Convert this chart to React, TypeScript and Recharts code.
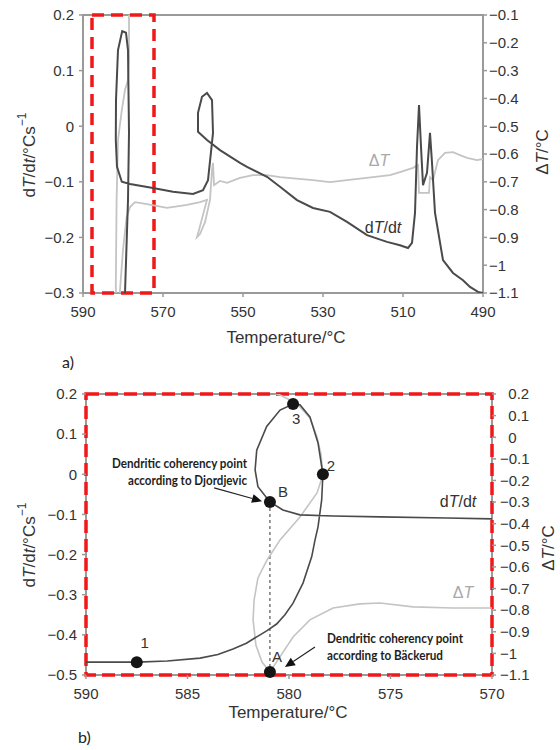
import React from 'react';
import { ComposedChart, Line, XAxis, YAxis, ReferenceArea, ReferenceLine, ReferenceDot } from 'recharts';

// ---------- data ----------
const tempTicksA = [590, 570, 550, 530, 510, 490];
const rateTicksA = [0.2, 0.1, 0, -0.1, -0.2, -0.3];
const deltaTicksA = [-0.1, -0.2, -0.3, -0.4, -0.5, -0.6, -0.7, -0.8, -0.9, -1, -1.1];
const tempTicksB = [590, 585, 580, 575, 570];
const rateTicksB = [0.2, 0.1, 0, -0.1, -0.2, -0.3, -0.4, -0.5];
const deltaTicksB = [0.2, 0.1, 0, -0.1, -0.2, -0.3, -0.4, -0.5, -0.6, -0.7, -0.8, -0.9, -1, -1.1];

// panel a: dT/dt (temperature, °C/s)
const rateCurveA = [
  [590, -0.47], [585, -0.46], [582.8, -0.435], [581.6, -0.405], [580.6, -0.373], [579.8, -0.321],
  [579.5, -0.3], [578.75, -0.133], [578.5, -0.012], [578.75, 0.137], [579.25, 0.168], [580.2, 0.171],
  [581.25, 0.137], [581.75, 0.047], [581.8, -0.025], [581.5, -0.073], [580.3, -0.1], [578.25, -0.104],
  [572.5, -0.111], [567.5, -0.118], [562.5, -0.122], [560, -0.115], [558.75, -0.097], [557.5, -0.012],
  [557.75, 0.047], [559, 0.06], [560.25, 0.053], [561.25, 0.024], [561.25, -0.01], [559, -0.025],
  [555.75, -0.043], [550.75, -0.066], [549, -0.073], [544, -0.091], [540.75, -0.109], [536.5, -0.133],
  [532.5, -0.147], [528.25, -0.154], [524, -0.172], [519, -0.196], [514, -0.208], [510.75, -0.214],
  [508.75, -0.219], [507.75, -0.21], [507, -0.156], [506.5, -0.037], [506, 0.038], [505.5, -0.037],
  [505, -0.106], [504, -0.084], [503.25, -0.012], [502.75, -0.066], [502, -0.156], [500, -0.241],
  [497.5, -0.264], [495, -0.277], [493.25, -0.289], [491.25, -0.298], [490, -0.3],
];

// panel a: ΔT (temperature, °C)
const deltaCurveA = [
  [578.5, 0.0], [578.5, -0.262], [578.75, -0.334], [579.5, -0.37], [580.3, -0.442], [581.25, -0.55],
  [581.6, -0.765], [581.8, -1.078], [581.6, -1.12], [580.9, -1.12], [580.75, -1.089], [580, -0.945],
  [579.1, -0.827], [578.25, -0.791], [577, -0.773], [574, -0.78], [569, -0.794], [564, -0.783],
  [560.75, -0.773], [559, -0.765], [560, -0.819], [561, -0.873], [561.5, -0.899], [560.75, -0.888],
  [559.5, -0.845], [558.25, -0.765], [557.75, -0.658], [557.5, -0.632], [557.25, -0.712], [555.75, -0.697],
  [554, -0.704], [550.75, -0.686], [547.5, -0.676], [544, -0.676], [540.75, -0.683], [532.5, -0.694],
  [528.25, -0.701], [524, -0.694], [517.5, -0.683], [513.25, -0.676], [510.75, -0.665], [507.5, -0.65],
  [506.25, -0.64], [506, -0.74], [503.5, -0.74], [503.25, -0.683], [502.5, -0.694], [501.25, -0.622],
  [499.5, -0.596], [497.5, -0.593], [495.75, -0.604], [494, -0.614], [491.5, -0.622], [490, -0.618],
];

// temperature window of panel b, outlined in panel a
const zoomWindowA = [587.75, 572.25];

// panel b: dT/dt
const rateCurveB = [
  [590, -0.468], [587.5, -0.468], [586, -0.465], [584.38, -0.458], [583.5, -0.449], [582.76, -0.435],
  [582.1, -0.421], [581.59, -0.405], [581.1, -0.39], [580.61, -0.373], [580.2, -0.35], [579.8, -0.321],
  [579.31, -0.271], [578.88, -0.205], [578.72, -0.164], [578.57, -0.131], [578.39, -0.064], [578.33, 0.0],
  [578.57, 0.078], [578.97, 0.143], [579.46, 0.173], [579.8, 0.175], [580.44, 0.16], [581.1, 0.119],
  [581.59, 0.06], [581.67, 0.011], [581.53, -0.031], [580.94, -0.069], [580.3, -0.089], [579.46, -0.101],
  [577.83, -0.104], [575.52, -0.106], [572.22, -0.109], [570, -0.111],
];

// panel b: ΔT
const deltaCurveB = [
  [581.03, 0.242], [580.79, 0.205], [580.44, 0.195], [579.95, 0.172], [579.46, 0.14], [578.97, 0.089],
  [578.62, 0.001], [578.42, -0.082], [578.33, -0.175], [578.62, -0.258], [579.46, -0.369], [580.44, -0.475],
  [581.08, -0.568], [581.53, -0.651], [581.72, -0.753], [581.77, -0.845], [581.63, -0.961], [581.33, -1.04],
  [580.94, -1.086], [580.44, -1.015], [579.8, -0.924], [578.97, -0.845], [577.83, -0.79], [576.5, -0.771],
  [575.52, -0.767], [573.89, -0.785], [571.92, -0.79], [570, -0.79],
];

// marked points in panel b
const ratePointsB = [
  { name: '1', t: 587.5, v: -0.468 },
  { name: '2', t: 578.33, v: 0.0 },
  { name: '3', t: 579.8, v: 0.175 },
  { name: 'B', t: 580.94, v: -0.069 },
];
const deltaPointsB = [{ name: 'A', t: 580.94, d: -1.086 }];

// annotation arrows (temperature, dT/dt)
const arrowDjordjevic = [[583.69, -0.034], [581.33, -0.067]];
const arrowBackerud = [[578.72, -0.43], [580.2, -0.48]];

// ---------- styling ----------
const SANS = '"Liberation Sans", Arial, sans-serif';
const NOTE = 'Lato, "Open Sans", sans-serif';
const AXIS = '#9a9a9a';
const DARK = '#4a4a4a';
const LIGHT = '#c4c4c4';
const RED = '#f01818';
const labelOffsets: Record<string, [number, number]> = {
  '1': [8, -20], '2': [8, -9], '3': [3, 14], B: [13, -10], A: [7, -15],
};

const toRate = (arr: number[][]) => arr.map(([t, v]) => ({ t, v }));
const toDelta = (arr: number[][]) => arr.map(([t, d]) => ({ t, d }));
const fmt = (n: number) => {
  const r = Math.round(n * 10) / 10;
  return (r < 0 ? '\u2212' : '') + String(Math.abs(r));
};
const fmtPad = (n: number) => (n >= 0 ? '\u2007' + fmt(n) : fmt(n));

const tickLine = { stroke: AXIS, strokeWidth: 1.5 };
const tickStyle = { fill: '#333', fontSize: 15, fontFamily: SANS };

const Arrow = (p: any) => {
  const { x1, y1, x2, y2 } = p;
  const ang = Math.atan2(y2 - y1, x2 - x1);
  const L = 10, W = 4.5;
  const bx = x2 - L * Math.cos(ang), by = y2 - L * Math.sin(ang);
  const px = -Math.sin(ang) * W, py = Math.cos(ang) * W;
  return (
    <g>
      <line x1={x1} y1={y1} x2={bx} y2={by} stroke="#222" strokeWidth={1.2} />
      <polygon points={`${x2},${y2} ${bx + px},${by + py} ${bx - px},${by - py}`} fill="#111" />
    </g>
  );
};

const marker = (name: string) => (p: any) => {
  const [dx, dy] = labelOffsets[name];
  return (
    <g>
      <circle cx={p.cx} cy={p.cy} r={6} fill="#151515" />
      <text x={p.cx + dx} y={p.cy + dy} textAnchor="middle" dominantBaseline="central"
        fontSize={15} fontFamily={SANS} fill="#333">{name}</text>
    </g>
  );
};

const RateTitle = ({ x, y }: { x: number; y: number }) => (
  <text x={x} y={y} transform={`rotate(-90 ${x} ${y})`} textAnchor="middle" dominantBaseline="central"
    fontSize={17} fontFamily={SANS} fill="#333">
    d<tspan fontStyle="italic">T</tspan>/d<tspan fontStyle="italic">t</tspan>/°Cs
    <tspan dy={-7} fontSize={12}>{'\u22121'}</tspan>
  </text>
);
const DeltaTitle = ({ x, y }: { x: number; y: number }) => (
  <text x={x} y={y} transform={`rotate(-90 ${x} ${y})`} textAnchor="middle" dominantBaseline="central"
    fontSize={17} fontFamily={SANS} fill="#333">
    Δ<tspan fontStyle="italic">T</tspan>/°C
  </text>
);

const PanelA = () => (
  <ComposedChart width={560} height={375} margin={{ top: 15, right: 0, bottom: 52, left: 0 }}>
    <XAxis dataKey="t" type="number" domain={[490, 590]} reversed ticks={tempTicksA} allowDataOverflow
      height={30} tickSize={4} tickMargin={9} axisLine={false} tickLine={tickLine} tick={tickStyle} />
    <YAxis yAxisId="left" type="number" domain={[-0.3, 0.2]} ticks={rateTicksA} allowDataOverflow
      width={83} tickSize={4} tickMargin={5} axisLine={false} tickLine={tickLine} tick={tickStyle}
      tickFormatter={fmt} interval={0} />
    <YAxis yAxisId="right" orientation="right" type="number" domain={[-1.1, -0.1]} ticks={deltaTicksA}
      allowDataOverflow width={77} tickSize={4} tickMargin={2} axisLine={false} tickLine={tickLine}
      tick={tickStyle} tickFormatter={fmt} interval={0} />
    <Line data={toDelta(deltaCurveA)} dataKey="d" yAxisId="right" type="linear" stroke={LIGHT}
      strokeWidth={1.8} dot={false} isAnimationActive={false} />
    <Line data={toRate(rateCurveA)} dataKey="v" yAxisId="left" type="linear" stroke={DARK}
      strokeWidth={2} dot={false} isAnimationActive={false} />
    <ReferenceArea yAxisId="left" x1={590} x2={490} y1={-0.3} y2={0.2}
      fill="none" fillOpacity={0} stroke={AXIS} strokeWidth={2} ifOverflow="visible" />
    <ReferenceArea yAxisId="left" x1={zoomWindowA[0]} x2={zoomWindowA[1]} y1={-0.3} y2={0.2}
      fill="none" fillOpacity={0} stroke={RED} strokeWidth={3.5} strokeDasharray="12 7" ifOverflow="visible" />
  </ComposedChart>
);

const pointB = ratePointsB.find((p) => p.name === 'B')!;

const PanelB = () => (
  <ComposedChart width={560} height={375} margin={{ top: 19, right: 0, bottom: 45, left: 0 }}>
    <XAxis dataKey="t" type="number" domain={[570, 590]} reversed ticks={tempTicksB} allowDataOverflow
      height={30} tickSize={4} tickMargin={9} axisLine={false} tickLine={tickLine} tick={tickStyle} />
    <YAxis yAxisId="left" type="number" domain={[-0.5, 0.2]} ticks={rateTicksB} allowDataOverflow
      width={86} tickSize={4} tickMargin={5} axisLine={false} tickLine={tickLine} tick={tickStyle}
      tickFormatter={fmt} interval={0} />
    <YAxis yAxisId="right" orientation="right" type="number" domain={[-1.1, 0.2]} ticks={deltaTicksB}
      allowDataOverflow width={68} tickSize={4} tickMargin={4} axisLine={false} tickLine={tickLine}
      tick={{ ...tickStyle, textAnchor: 'start' }} tickFormatter={fmtPad} interval={0} />
    <ReferenceLine yAxisId="left" segment={[{ x: pointB.t, y: pointB.v }, { x: pointB.t, y: -0.5 }]}
      stroke="#555" strokeWidth={1.2} strokeDasharray="3 3" />
    <Line data={toDelta(deltaCurveB)} dataKey="d" yAxisId="right" type="linear" stroke={LIGHT}
      strokeWidth={1.6} dot={false} isAnimationActive={false} />
    <Line data={toRate(rateCurveB)} dataKey="v" yAxisId="left" type="linear" stroke={DARK}
      strokeWidth={1.6} dot={false} isAnimationActive={false} />
    <ReferenceArea yAxisId="left" x1={590} x2={570} y1={-0.5} y2={0.2}
      fill="none" fillOpacity={0} stroke={AXIS} strokeWidth={2} ifOverflow="visible" />
    <ReferenceArea yAxisId="left" x1={590} x2={570} y1={-0.5} y2={0.2}
      fill="none" fillOpacity={0} stroke={RED} strokeWidth={3.5} strokeDasharray="13 6" ifOverflow="visible" />
    <ReferenceLine yAxisId="left" segment={[{ x: arrowDjordjevic[0][0], y: arrowDjordjevic[0][1] }, { x: arrowDjordjevic[1][0], y: arrowDjordjevic[1][1] }]}
      shape={Arrow} ifOverflow="visible" />
    <ReferenceLine yAxisId="left" segment={[{ x: arrowBackerud[0][0], y: arrowBackerud[0][1] }, { x: arrowBackerud[1][0], y: arrowBackerud[1][1] }]}
      shape={Arrow} ifOverflow="visible" />
    {ratePointsB.map((p) => (
      <ReferenceDot key={p.name} yAxisId="left" x={p.t} y={p.v} r={6} shape={marker(p.name)} ifOverflow="visible" />
    ))}
    {deltaPointsB.map((p) => (
      <ReferenceDot key={p.name} yAxisId="right" x={p.t} y={p.d} r={6} shape={marker(p.name)} ifOverflow="visible" />
    ))}
  </ComposedChart>
);

const Overlay = () => (
  <svg width={560} height={750} style={{ position: 'absolute', left: 0, top: 0, pointerEvents: 'none' }}>
    {/* panel a */}
    <RateTitle x={29} y={155} />
    <DeltaTitle x={542} y={152} />
    <text x={286} y={337} textAnchor="middle" dominantBaseline="central" fontSize={17} fontFamily={SANS} fill="#333">Temperature/°C</text>
    <text x={62} y={361} dominantBaseline="central" fontSize={16} fontFamily={NOTE} fill="#222">a)</text>
    <text x={379} y={160} textAnchor="middle" dominantBaseline="central" fontSize={16} fontFamily={SANS} fill="#a8a8a8">Δ<tspan fontStyle="italic">T</tspan></text>
    <text x={383} y={227} textAnchor="middle" dominantBaseline="central" fontSize={16} fontFamily={SANS} fill="#333">d<tspan fontStyle="italic">T</tspan>/d<tspan fontStyle="italic">t</tspan></text>
    {/* panel b */}
    <RateTitle x={29} y={545} />
    <DeltaTitle x={548} y={548} />
    <text x={288} y={712} textAnchor="middle" dominantBaseline="central" fontSize={17} fontFamily={SANS} fill="#333">Temperature/°C</text>
    <text x={78} y={736} dominantBaseline="central" fontSize={16} fontFamily={NOTE} fill="#222">b)</text>
    <text x={458} y={501} textAnchor="middle" dominantBaseline="central" fontSize={16} fontFamily={SANS} fill="#333">d<tspan fontStyle="italic">T</tspan>/d<tspan fontStyle="italic">t</tspan></text>
    <text x={463} y={592} textAnchor="middle" dominantBaseline="central" fontSize={16} fontFamily={SANS} fill="#a8a8a8">Δ<tspan fontStyle="italic">T</tspan></text>
    <g fontFamily={NOTE} fontWeight={700} fontSize={12.5} fill="#1e1e1e">
      <text x={247} y={463} textAnchor="end" dominantBaseline="central" textLength={135} lengthAdjust="spacingAndGlyphs">Dendritic coherency point</text>
      <text x={247} y={480} textAnchor="end" dominantBaseline="central" textLength={119} lengthAdjust="spacingAndGlyphs">according to Djordjevic</text>
      <text x={327} y={638} dominantBaseline="central" textLength={136} lengthAdjust="spacingAndGlyphs">Dendritic coherency point</text>
      <text x={327} y={655} dominantBaseline="central" textLength={116} lengthAdjust="spacingAndGlyphs">according to Bäckerud</text>
    </g>
  </svg>
);

export default function App() {
  return (
    <div style={{ position: 'absolute', left: 0, top: 0, width: 560, height: 750, background: '#fff' }}>
      <div style={{ position: 'absolute', left: 0, top: 0 }}><PanelA /></div>
      <div style={{ position: 'absolute', left: 0, top: 375 }}><PanelB /></div>
      <Overlay />
    </div>
  );
}
